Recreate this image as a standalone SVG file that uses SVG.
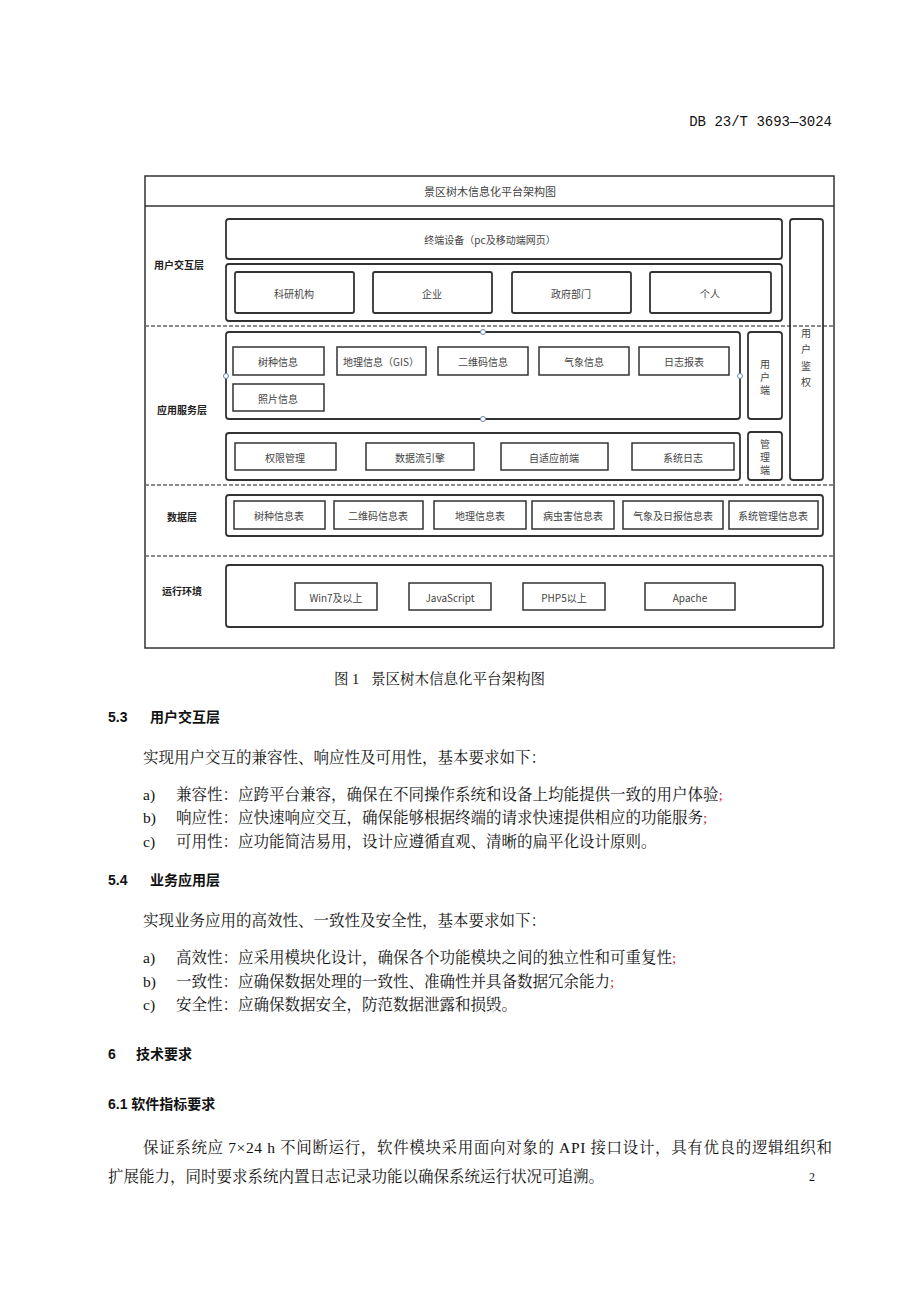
<svg xmlns="http://www.w3.org/2000/svg" width="920" height="1302" viewBox="0 0 920 1302">
<style>
.b{fill:#fff;stroke:#333;stroke-width:1.5}
.o{fill:none;stroke:#333;stroke-width:1.8}
.t{font-family:"Noto Sans CJK SC",sans-serif;font-size:10px;fill:#444;text-anchor:middle;dominant-baseline:central}
.l{font-family:"Noto Sans CJK SC",sans-serif;font-size:10px;font-weight:bold;fill:#222;text-anchor:middle;dominant-baseline:central}
.d{stroke:#666;stroke-width:1.5;stroke-dasharray:4,2}
.p{font-family:"Liberation Serif","Noto Serif CJK SC","Noto Sans CJK SC",serif;font-size:15.5px;fill:#111}
.h{font-family:"Liberation Sans","Noto Sans CJK SC",sans-serif;font-size:14px;font-weight:bold;fill:#111}
.r{fill:#c33}
.c{fill:#fff;stroke:#68a;stroke-width:1}
</style>
<rect width="920" height="1302" fill="#fff"/>
<text x="832" y="126" text-anchor="end" font-family="Liberation Mono,monospace" font-size="14" fill="#111">DB 23/T 3693—3024</text>
<g id="frame">
<rect x="145" y="176" width="689" height="472" fill="none" stroke="#333" stroke-width="1.5"/>
<line x1="145" y1="206" x2="834" y2="206" stroke="#333" stroke-width="1.5"/>
<text class="t" x="490" y="191" style="font-size:11px">景区树木信息化平台架构图</text>
</g>
<g id="separators">
<line class="d" x1="145" y1="326" x2="834" y2="326"/>
<line class="d" x1="145" y1="485" x2="834" y2="485"/>
<line class="d" x1="145" y1="556" x2="834" y2="556"/>
</g>
<g id="labels">
<text class="l" x="179" y="264">用户交互层</text>
<text class="l" x="182" y="409">应用服务层</text>
<text class="l" x="182" y="516">数据层</text>
<text class="l" x="182" y="590">运行环境</text>
</g>
<g id="auth"><rect class="o" x="790" y="219" width="33" height="261" rx="3"/>
<text class="t" x="806" y="332">用</text><text class="t" x="806" y="348">户</text><text class="t" x="806" y="365">鉴</text><text class="t" x="806" y="381">权</text></g>
<g id="terminal"><rect class="o" x="226" y="219" width="556" height="40" rx="3"/><text class="t" x="490" y="239">终端设备（pc及移动端网页）</text></g>
<g id="users"><rect class="o" x="226" y="264" width="556" height="57" rx="3"/>
<rect class="o" x="235" y="272" width="119" height="41" rx="2"/><text class="t" x="294" y="293">科研机构</text>
<rect class="o" x="373" y="272" width="119" height="41" rx="2"/><text class="t" x="432" y="293">企业</text>
<rect class="o" x="512" y="272" width="119" height="41" rx="2"/><text class="t" x="571" y="293">政府部门</text>
<rect class="o" x="650" y="272" width="121" height="41" rx="2"/><text class="t" x="710" y="293">个人</text></g>
<g id="app1"><rect class="o" x="226" y="332" width="514" height="87" rx="3"/>
<rect class="b" x="233" y="347" width="91" height="28"/><text class="t" x="278" y="361">树种信息</text>
<rect class="b" x="337" y="347" width="89" height="28"/><text class="t" x="381" y="361">地理信息（GIS）</text>
<rect class="b" x="438" y="347" width="90" height="28"/><text class="t" x="483" y="361">二维码信息</text>
<rect class="b" x="539" y="347" width="90" height="28"/><text class="t" x="584" y="361">气象信息</text>
<rect class="b" x="639" y="347" width="90" height="28"/><text class="t" x="684" y="361">日志报表</text>
<rect class="b" x="233" y="384" width="91" height="27"/><text class="t" x="278" y="398">照片信息</text>
<circle class="c" cx="483" cy="332" r="2.5"/><circle class="c" cx="226" cy="376" r="2.5"/><circle class="c" cx="740" cy="376" r="2.5"/><circle class="c" cx="483" cy="419" r="2.5"/></g>
<g id="userend"><rect class="o" x="748" y="332" width="34" height="87" rx="3"/>
<text class="t" x="765" y="363">用</text><text class="t" x="765" y="376">户</text><text class="t" x="765" y="389">端</text></g>
<g id="app2"><rect class="o" x="226" y="433" width="514" height="47" rx="3"/>
<rect class="b" x="235" y="443" width="101" height="27"/><text class="t" x="285" y="457">权限管理</text>
<rect class="b" x="366" y="443" width="108" height="27"/><text class="t" x="420" y="457">数据流引擎</text>
<rect class="b" x="501" y="443" width="107" height="27"/><text class="t" x="554" y="457">自适应前端</text>
<rect class="b" x="632" y="443" width="102" height="27"/><text class="t" x="683" y="457">系统日志</text></g>
<g id="adminend"><rect class="o" x="748" y="432" width="34" height="48" rx="3"/>
<text class="t" x="765" y="443">管</text><text class="t" x="765" y="456">理</text><text class="t" x="765" y="469">端</text></g>
<g id="data"><rect class="o" x="226" y="495" width="597" height="41" rx="3"/>
<rect class="b" x="234" y="501" width="91" height="28"/><text class="t" x="279" y="515">树种信息表</text>
<rect class="b" x="334" y="501" width="89" height="28"/><text class="t" x="378" y="515">二维码信息表</text>
<rect class="b" x="434" y="501" width="92" height="28"/><text class="t" x="480" y="515">地理信息表</text>
<rect class="b" x="532" y="501" width="82" height="28"/><text class="t" x="573" y="515">病虫害信息表</text>
<rect class="b" x="623" y="501" width="100" height="28"/><text class="t" x="673" y="515">气象及日报信息表</text>
<rect class="b" x="729" y="501" width="89" height="28"/><text class="t" x="773" y="515">系统管理信息表</text></g>
<g id="env"><rect class="o" x="226" y="565" width="597" height="62" rx="3"/>
<rect class="b" x="295" y="583" width="82" height="27"/><text class="t" x="336" y="597">Win7及以上</text>
<rect class="b" x="409" y="583" width="82" height="27"/><text class="t" x="450" y="597">JavaScript</text>
<rect class="b" x="523" y="583" width="82" height="27"/><text class="t" x="564" y="597">PHP5以上</text>
<rect class="b" x="645" y="583" width="90" height="27"/><text class="t" x="690" y="597">Apache</text></g>
<g id="body">
<text class="p" x="334" y="684" style="font-size:14.5px">图 1<tspan x="371">景区树木信息化平台架构图</tspan></text>
<text class="h" x="108" y="722">5.3<tspan x="150">用户交互层</tspan></text>
<text class="p" x="143" y="763">实现用户交互的兼容性、响应性及可用性，基本要求如下：</text>
<text class="p" x="143" y="800">a)<tspan x="176">兼容性：应跨平台兼容，确保在不同操作系统和设备上均能提供一致的用户体验</tspan><tspan class="r">;</tspan></text>
<text class="p" x="143" y="823">b)<tspan x="176">响应性：应快速响应交互，确保能够根据终端的请求快速提供相应的功能服务</tspan><tspan class="r">;</tspan></text>
<text class="p" x="143" y="847">c)<tspan x="176">可用性：应功能简洁易用，设计应遵循直观、清晰的扁平化设计原则。</tspan></text>
<text class="h" x="108" y="885">5.4<tspan x="150">业务应用层</tspan></text>
<text class="p" x="143" y="926">实现业务应用的高效性、一致性及安全性，基本要求如下：</text>
<text class="p" x="143" y="963">a)<tspan x="176">高效性：应采用模块化设计，确保各个功能模块之间的独立性和可重复性</tspan><tspan class="r">;</tspan></text>
<text class="p" x="143" y="987">b)<tspan x="176">一致性：应确保数据处理的一致性、准确性并具备数据冗余能力</tspan><tspan class="r">;</tspan></text>
<text class="p" x="143" y="1010">c)<tspan x="176">安全性：应确保数据安全，防范数据泄露和损毁。</tspan></text>
<text class="h" x="108" y="1059">6<tspan x="136">技术要求</tspan></text>
<text class="h" x="108" y="1109">6.1 软件指标要求</text>
<text class="p" x="143" y="1153" textLength="689" lengthAdjust="spacing">保证系统应 7×24 h 不间断运行，软件模块采用面向对象的 API 接口设计，具有优良的逻辑组织和</text>
<text class="p" x="108" y="1182">扩展能力，同时要求系统内置日志记录功能以确保系统运行状况可追溯。</text>
<text class="p" x="815" y="1181" text-anchor="end" style="font-size:12px">2</text>
</g>
</svg>
